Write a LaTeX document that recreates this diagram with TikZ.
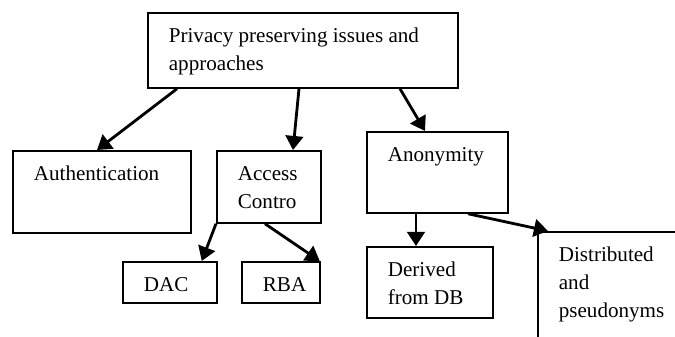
\documentclass[tikz,border=0pt]{standalone}
\usepackage{fontspec}
\setmainfont{Liberation Serif}
\usetikzlibrary{arrows.meta}

\tikzset{
  box/.style={draw, rectangle, anchor=north west, inner sep=0pt, line width=1pt,
    font=\fontsize{12pt}{16pt}\selectfont},
  arr/.style={line width=1.6pt, -{Triangle[length=8pt, width=10pt]}}
}
% fixed size box, text at the top left
\newcommand{\boxtext}[3]{\parbox[t][#2][t]{#1}{\raggedright\leftskip=0.42cm\vspace*{0.2cm}\strut#3}}

\begin{document}
\begin{tikzpicture}
  \useasboundingbox (0,0) rectangle (13.5,6.72);
  \clip (0,0) rectangle (13.5,6.72);
  % boxes
  \node[box] (top) at (2.94,6.48) {\boxtext{6.2cm}{1.5cm}{Privacy preserving issues and\\approaches}};
  \node[box] (auth) at (0.24,3.72) {\boxtext{3.56cm}{1.64cm}{Authentication}};
  \node[box] (acc) at (4.32,3.72) {\boxtext{2.08cm}{1.44cm}{Access\\Contro}};
  \node[box] (dac) at (2.44,1.50) {\boxtext{1.88cm}{0.82cm}{DAC}};
  \node[box] (rba) at (4.82,1.50) {\boxtext{1.56cm}{0.82cm}{RBA}};
  \node[box] (anon) at (7.32,4.10) {\boxtext{2.82cm}{1.62cm}{Anonymity}};
  \node[box] (der) at (7.32,1.80) {\boxtext{2.52cm}{1.42cm}{Derived\\from DB}};
  \node[box] (dist) at (10.74,2.10) {\boxtext{3.2cm}{2.4cm}{Distributed\\and\\pseudonyms}};
  % arrows
  \draw[arr] ([xshift=0.6cm]top.south west) -- ([xshift=1.7cm]auth.north west);
  \draw[arr] ([xshift=3.04cm]top.south west) -- ([xshift=1.54cm]acc.north west);
  \draw[arr] ([xshift=5.06cm]top.south west) -- ([xshift=1.18cm]anon.north west);
  \draw[arr] (acc.south west) -- ([xshift=-0.32cm]dac.north east);
  \draw[arr] ([xshift=0.98cm]acc.south west) -- ([xshift=-0.02cm]rba.north east);
  \draw[arr] ([xshift=1cm]anon.south west) -- ([xshift=1cm]der.north west);
  \draw[arr] ([xshift=2.04cm]anon.south west) -- ([xshift=0.22cm]dist.north west);
\end{tikzpicture}
\end{document}
